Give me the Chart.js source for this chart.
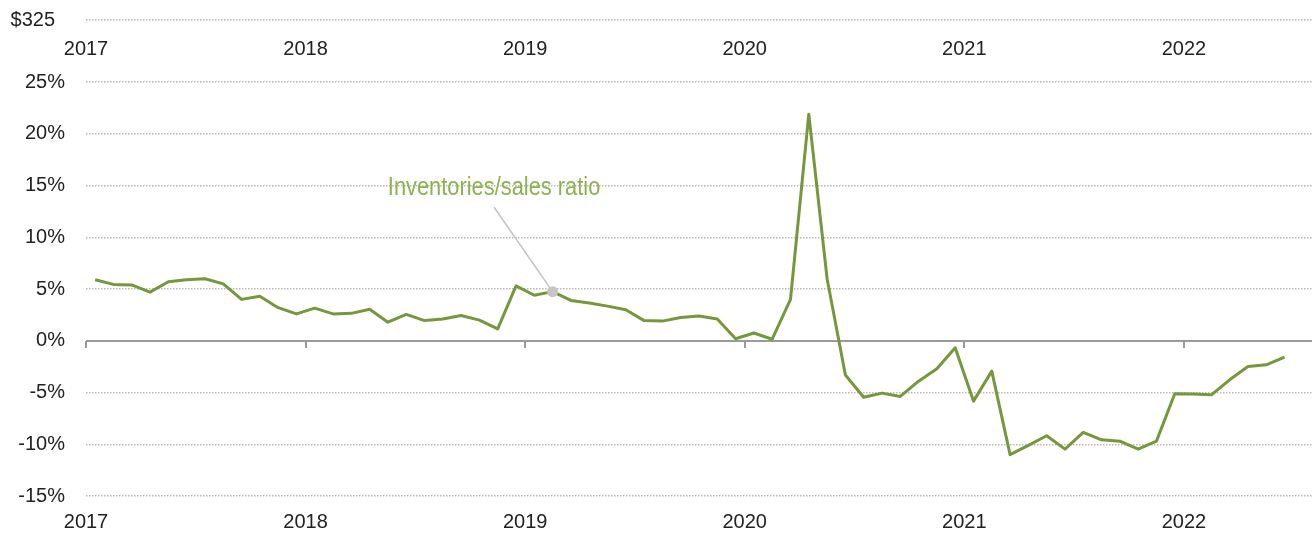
<!DOCTYPE html>
<html>
<head>
<meta charset="utf-8">
<script src="https://cdn.jsdelivr.net/npm/chart.js@4.4.0/dist/chart.umd.min.js"></script>
<style>
html, body { margin: 0; padding: 0; background: #fff; }
</style>
</head>
<body>
<canvas id="myChart" width="1312" height="537"></canvas>
<script>
// year labels, one every 12 months starting Jan 2017
var years = ['2017', '2018', '2019', '2020', '2021', '2022'];
var monthsShown = 67;

// inventories/sales ratio, % change, monthly Jan 2017 - Jun 2022
var ratio = [
    5.9, 5.45, 5.4, 4.7, 5.7, 5.9, 6.0, 5.5, 4.0, 4.3, 3.2, 2.6,
    3.15, 2.6, 2.65, 3.05, 1.8, 2.55, 1.95, 2.1, 2.45, 2.0, 1.15, 5.3,
    4.4, 4.75, 3.9, 3.65, 3.35, 3.0, 1.95, 1.9, 2.25, 2.4, 2.1, 0.2,
    0.75, 0.15, 4.0, 21.9, 6.0, -3.3, -5.45, -5.06, -5.38, -3.9, -2.7, -0.68,
    -5.83, -2.93, -11.0, -10.1, -9.18, -10.47, -8.85, -9.57, -9.7, -10.47, -9.7, -5.12,
    -5.15, -5.22, -3.77, -2.48, -2.32, -1.58
];

var yTicks = [-15, -10, -5, 0, 5, 10, 15, 20, 25];
var topTick = 31;
var topLabel = '$325';

var noteText = 'Inventories/sales ratio';
var noteIndex = 25;
var noteX = 22.3, noteY = 14.8;
var leadX = 22.3, leadY = 12.9;

var tickFont = { family: '"Liberation Sans", Arial, sans-serif', size: 20 };
var tickColor = '#222';

var points = ratio.map(function(v, i) {
    return { x: i + 0.5, y: v };
});

function yearTicks(scale) {
    scale.ticks = years.map(function(y, i) { return { value: i * 12 }; });
}
function yearLabel(v) {
    return years[Math.round(v / 12)];
}

var notePlugin = {
    id: 'note',
    afterDatasetsDraw: function(chart) {
        var ctx = chart.ctx;
        var xs = chart.scales.x, ys = chart.scales.y;
        var pt = chart.getDatasetMeta(0).data[noteIndex];
        ctx.save();
        ctx.strokeStyle = '#c2c2c2';
        ctx.lineWidth = 1.5;
        ctx.beginPath();
        ctx.moveTo(xs.getPixelForValue(leadX), ys.getPixelForValue(leadY));
        ctx.lineTo(pt.x, pt.y);
        ctx.stroke();
        ctx.fillStyle = '#c6c6c6';
        ctx.beginPath();
        ctx.arc(pt.x, pt.y, 5.5, 0, Math.PI * 2);
        ctx.fill();
        // condensed look: squeeze the text horizontally
        ctx.translate(xs.getPixelForValue(noteX), ys.getPixelForValue(noteY));
        ctx.scale(0.84, 1);
        ctx.font = '26px "Liberation Sans", Arial, sans-serif';
        ctx.fillStyle = '#8eb14f';
        ctx.textAlign = 'center';
        ctx.textBaseline = 'middle';
        ctx.fillText(noteText, 0, 0);
        ctx.restore();
    }
};

var ctx = document.getElementById('myChart').getContext('2d');
var myChart = new Chart(ctx, {
    type: 'line',
    data: {
        datasets: [{
            data: points,
            borderColor: '#76973b',
            borderWidth: 3,
            borderJoinStyle: 'round',
            pointRadius: 0,
            tension: 0,
            fill: false
        }]
    },
    options: {
        responsive: false,
        animation: false,
        devicePixelRatio: 1,
        layout: { padding: { top: 20, left: 0, right: 0, bottom: 0 } },
        plugins: {
            legend: { display: false },
            tooltip: { enabled: false }
        },
        scales: {
            x: {
                type: 'linear',
                position: 'bottom',
                min: 0,
                max: monthsShown,
                afterBuildTicks: yearTicks,
                afterFit: function(s) { s.height = 41; },
                grid: { display: false, drawTicks: false },
                border: { display: false },
                ticks: {
                    font: tickFont, color: tickColor, padding: 14,
                    maxRotation: 0, autoSkip: false, callback: yearLabel
                }
            },
            xTop: {
                type: 'linear',
                position: { y: 29.3 },
                min: 0,
                max: monthsShown,
                afterBuildTicks: yearTicks,
                grid: { display: false, drawTicks: false },
                border: { display: false },
                ticks: {
                    font: tickFont, color: tickColor, padding: 0,
                    maxRotation: 0, autoSkip: false, callback: yearLabel
                }
            },
            xZero: {
                type: 'linear',
                position: { y: 0 },
                min: 0,
                max: monthsShown,
                afterBuildTicks: yearTicks,
                grid: {
                    drawOnChartArea: false, drawTicks: true, tickLength: 7,
                    color: '#9a9a9a', lineWidth: 2
                },
                border: { display: false },
                ticks: { display: false }
            },
            y: {
                min: -15,
                max: topTick,
                afterBuildTicks: function(s) {
                    s.ticks = yTicks.concat([topTick]).map(function(v) { return { value: v }; });
                },
                afterFit: function(s) { s.width = 86; },
                grid: {
                    drawTicks: true,
                    tickLength: 21,
                    tickColor: 'transparent',
                    color: function(c) { return c.tick && c.tick.value === 0 ? '#9a9a9a' : '#b8b8b8'; },
                    lineWidth: function(c) { return c.tick && c.tick.value === 0 ? 2 : 1.5; }
                },
                border: {
                    display: false,
                    dash: function(c) { return c.tick && c.tick.value === 0 ? [] : [1.5, 1.5]; }
                },
                ticks: {
                    font: tickFont, color: tickColor, padding: 0,
                    callback: function(v) { return v === topTick ? topLabel + '\u2002' : v + '%'; }
                }
            }
        }
    },
    plugins: [notePlugin]
});
</script>
</body>
</html>
